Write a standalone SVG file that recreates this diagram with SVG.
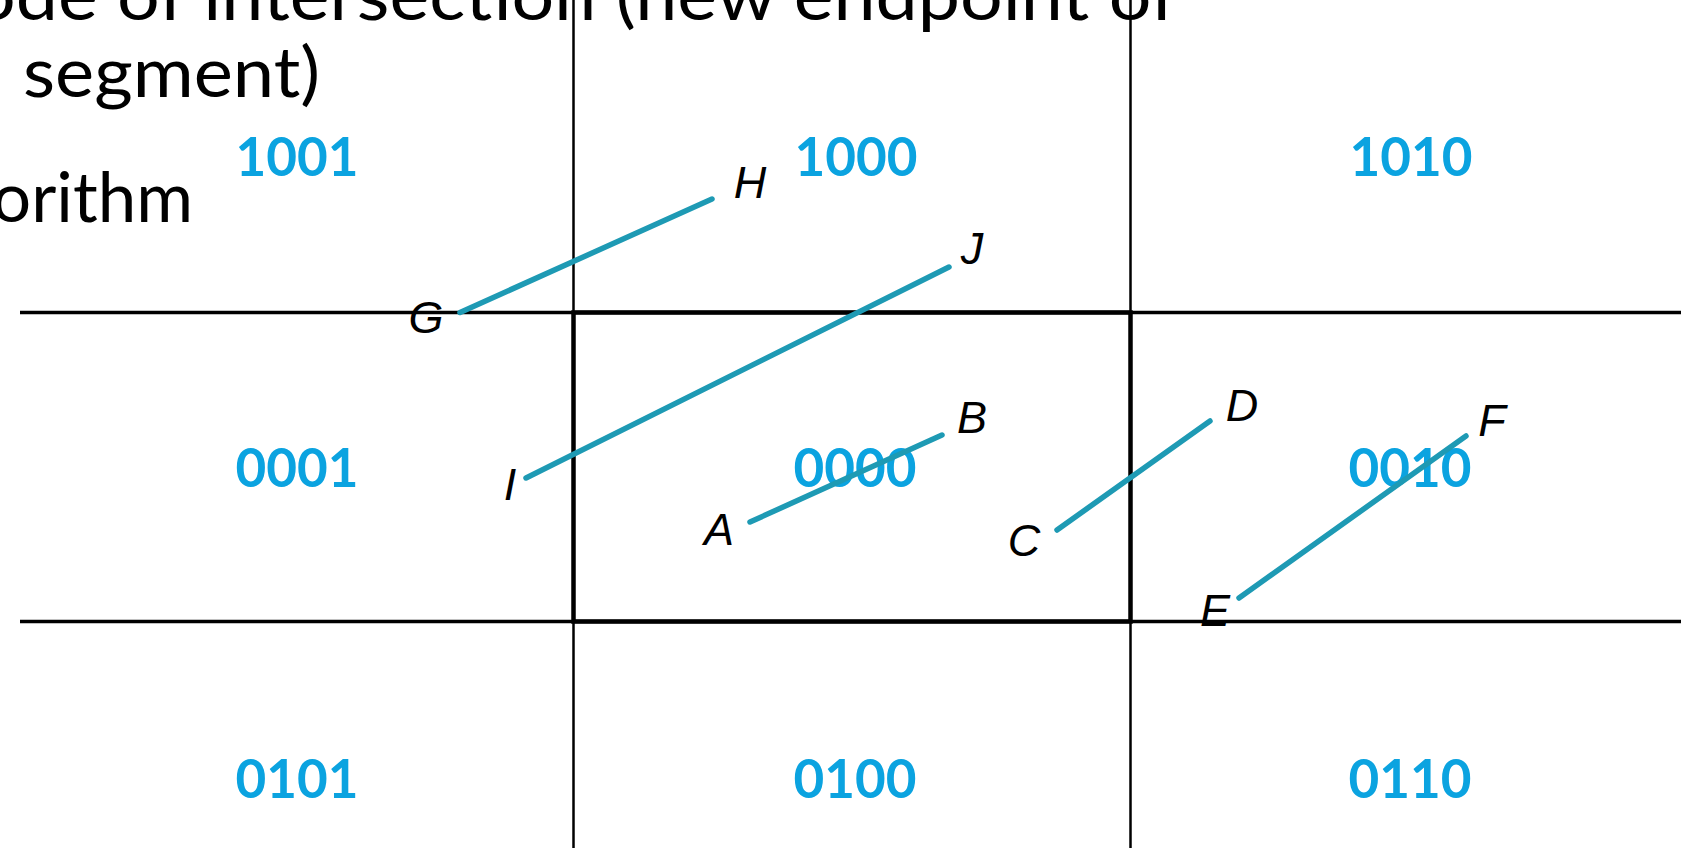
<svg xmlns="http://www.w3.org/2000/svg" width="1684" height="848" viewBox="0 0 1684 848">
<style>
.title{font-family:Lato,"Open Sans","Liberation Sans",sans-serif;font-size:70px;fill:#000}
.code{font-family:Lato,"Liberation Sans",sans-serif;font-weight:bold;font-size:53px;fill:#0BA3E0;text-anchor:middle}
.pt{font-family:"Liberation Sans",Arial,sans-serif;font-style:italic;font-size:45px;fill:#000;text-anchor:middle}
.grid{stroke:#000;fill:none}
.seg{stroke:#1E9AB4;stroke-width:5.5;stroke-linecap:round}
</style>
<rect width="1684" height="848" fill="#fff"/>
<g id="title-text">
<text class="title" x="-27" y="20" textLength="1204" lengthAdjust="spacingAndGlyphs">ode of intersection (new endpoint of</text>
<text class="title" x="23" y="97" textLength="297" lengthAdjust="spacingAndGlyphs">segment)</text>
<text class="title" x="-8" y="222" textLength="201" lengthAdjust="spacingAndGlyphs">orithm</text>
</g>
<g id="grid">
<line class="grid" x1="573.5" y1="0" x2="573.5" y2="848" stroke-width="2.5"/>
<line class="grid" x1="1130.5" y1="0" x2="1130.5" y2="848" stroke-width="2.5"/>
<line class="grid" x1="20" y1="312.5" x2="1681" y2="312.5" stroke-width="3.5"/>
<line class="grid" x1="20" y1="621.5" x2="1681" y2="621.5" stroke-width="3.5"/>
<rect id="window" class="grid" x="573.5" y="312.5" width="557" height="309" stroke-width="4.5"/>
</g>
<g id="codes">
<text id="c1001" class="code" x="297" y="176">1001</text>
<text id="c1000" class="code" x="856" y="176">1000</text>
<text id="c1010" class="code" x="1411" y="176">1010</text>
<text id="c0001" class="code" x="297" y="487">0001</text>
<text id="c0000" class="code" x="855" y="487">0000</text>
<text id="c0010" class="code" x="1410" y="487">0010</text>
<text id="c0101" class="code" x="297" y="798">0101</text>
<text id="c0100" class="code" x="855" y="798">0100</text>
<text id="c0110" class="code" x="1410" y="798">0110</text>
</g>
<g id="connectors">
<line class="seg" x1="460" y1="312.5" x2="712" y2="199"/>
<line class="seg" x1="526" y1="478" x2="949" y2="267"/>
<line class="seg" x1="750" y1="522" x2="942" y2="435"/>
<line class="seg" x1="1057" y1="530" x2="1210" y2="421"/>
<line class="seg" x1="1239" y1="598" x2="1466" y2="436"/>
</g>
<g id="labels">
<text id="G" class="pt" x="426" y="333">G</text>
<text id="H" class="pt" x="750" y="198">H</text>
<text id="J" class="pt" x="972" y="264">J</text>
<text id="I" class="pt" x="510" y="500">I</text>
<text id="A" class="pt" x="719" y="545">A</text>
<text id="B" class="pt" x="972" y="433">B</text>
<text id="C" class="pt" x="1024" y="556">C</text>
<text id="D" class="pt" x="1242" y="421">D</text>
<text id="E" class="pt" x="1215" y="626">E</text>
<text id="F" class="pt" x="1492" y="436">F</text>
</g>
</svg>
